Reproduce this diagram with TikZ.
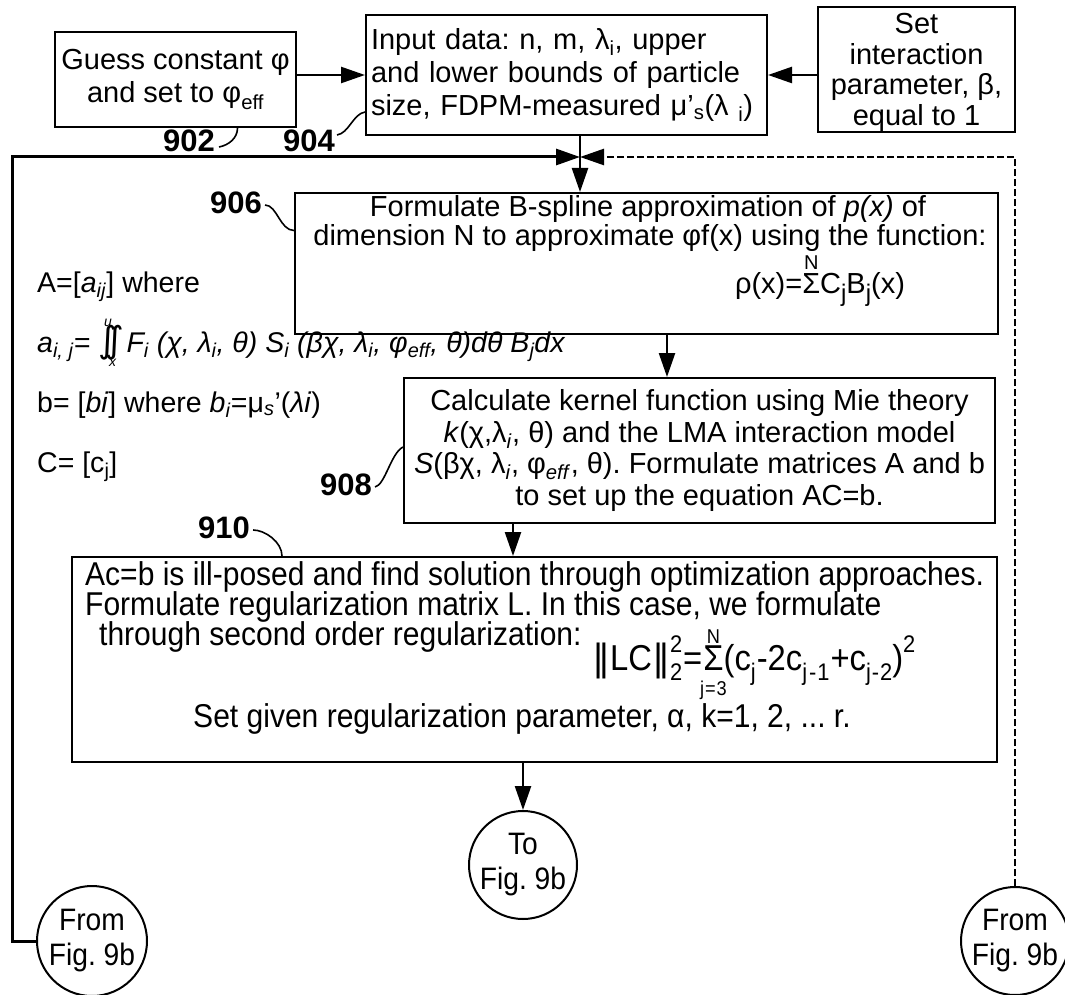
\documentclass[tikz,border=0pt]{standalone}
\usepackage{fontspec}
\setmainfont{Liberation Sans}
\newfontfamily\narrowf[FakeStretch=0.91]{Liberation Sans}
\newfontfamily\dvf{DejaVu Sans}
\usetikzlibrary{arrows.meta}
\frenchspacing
\newsavebox\sigbox
\newcommand{\sumlim}[3][0.78em]{\sbox\sigbox{Σ}%
 \makebox[0pt][l]{\makebox[\wd\sigbox][c]{\raisebox{#1}{\fontsize{20}{20}\selectfont #2}}}%
 \makebox[0pt][l]{\makebox[\wd\sigbox][c]{\raisebox{-0.72em}{\fontsize{20}{20}\selectfont #3}}}%
 \usebox\sigbox}
\newcommand{\dint}{\makebox[0pt][l]{\raisebox{26pt}{\fontsize{14}{14}\selectfont\itshape\kern6pt u}}%
 \makebox[0pt][l]{\raisebox{-14pt}{\fontsize{14}{14}\selectfont\itshape\kern11pt x}}%
 {\dvf\upshape\fontsize{36}{36}\selectfont ∫\kern-11pt∫}\kern2pt}
\newcommand{\sub}[1]{\raisebox{-0.28em}{\fontsize{24}{24}\selectfont #1}}
\newcommand{\sups}[1]{\raisebox{0.5em}{\fontsize{24}{24}\selectfont #1}}
\begin{document}
\begin{tikzpicture}[x=1pt,y=-1pt,
  box/.style={draw,line width=2pt,inner sep=0pt},
  tip/.style={-{Triangle[length=24pt,width=16pt]}},
  arr/.style={line width=2.4pt,tip},
  lbl/.style={font=\fontsize{31}{31}\selectfont\bfseries,inner sep=0pt},
  sq/.style={line width=1.6pt},
  txt/.style={inner sep=0pt,anchor=base west},
  ctxt/.style={inner sep=0pt,anchor=base},
  mainf/.style={font=\fontsize{29}{31.5}\selectfont},
  narf/.style={font=\narrowf\fontsize{33}{33}\selectfont},
  conn/.style={draw,circle,line width=2pt,minimum size=108pt,inner sep=0pt,align=center,font=\narrowf\fontsize{31}{35}\selectfont},
]
\useasboundingbox (0,0) rectangle (1065,995);

% top row
\node[box,minimum width=241pt,minimum height=95pt,align=center,font=\fontsize{29}{33}\selectfont] (b902) at (175.5,79.5) {Guess constant φ\\and set to φ\textsubscript{eff}};
\node[box,minimum width=401pt,minimum height=120pt,text width=391pt,align=left,font=\fontsize{29}{33}\selectfont] (b904) at (566.5,75) {Input data: n, m, λ\textsubscript{i}, upper\\and lower bounds of particle\\size, FDPM-measured μ'\textsubscript{s}(λ\textsubscript{ i})};
\node[box,minimum width=197pt,minimum height=125pt,align=center,font=\fontsize{29}{30.5}\selectfont] (bset) at (916.5,69.5) {\rule{0pt}{26pt}Set\\interaction\\parameter, β,\\equal to 1};

\coordinate (Y1) at (0,75);
\draw[arr] (b902.east |- Y1) -- (b904.west |- Y1);
\draw[arr] (bset.west |- Y1) -- (b904.east |- Y1);

\node[lbl] (l902) at (189,141) {902};
\node[lbl] (l904) at (309,141) {904};
\draw[sq] ([xshift=4pt,yshift=-6pt]l902.east) .. controls +(10,-2) and +(0,10) .. ([xshift=62pt]b902.south);
\draw[sq] ([xshift=2pt,yshift=6pt]l904.east) .. controls +(12,-2) and +(-12,2) .. ([yshift=-37pt]b904.west);

% loop
\coordinate (J) at (580,157);
\coordinate (LT) at (12,157);
\coordinate (RT) at (1015,157);

% 906
\node[box,minimum width=703pt,minimum height=141pt] (b906) at (646.5,263.5) {};
\node[ctxt,mainf] (t906a) at (648,216) {Formulate B-spline approximation of \textit{p(x)} of};
\node[ctxt,mainf] (t906b) at (650,245) {dimension N to approximate φf(x) using the function:};
\node[ctxt,mainf] (t906c) at (820,293) {ρ(x)=\sumlim[0.82em]{N}{}C\sub{j}B\sub{j}(x)};
\node[lbl] (l906) at (236,203) {906};
\draw[sq] ([xshift=3pt,yshift=-2pt]l906.east) .. controls +(12,0) and +(-14,0) .. ([yshift=33pt]b906.west);

\draw[arr] (J |- b904.south) -- (J |- b906.north);

% left formulas
\node[txt,font=\fontsize{28.5}{31}\selectfont] (fA) at (37,292) {A=[\textit{a}\textsubscript{\textit{ij}}] where};
\node[txt,font=\fontsize{28.5}{31}\selectfont\itshape] (fa) at (37,352) {a\textsubscript{i, j}= \dint F\textsubscript{i} (χ, λ\textsubscript{i}, θ) S\textsubscript{i} (βχ, λ\textsubscript{i}, φ\textsubscript{eff}, θ)dθ B\textsubscript{j}dx};
\node[txt,font=\fontsize{28.5}{31}\selectfont] (fb) at (37,412) {b= [\textit{bi}] where \textit{b}\textsubscript{\textit{i}}=μ\textsubscript{\textit{s}}'(\textit{λi})};
\node[txt,font=\fontsize{28.5}{31}\selectfont] (fC) at (37,472) {C= [c\textsubscript{j}]};

% 908
\node[box,minimum width=591pt,minimum height=145pt,align=center,mainf] (b908) at (699.5,450.5) {Calculate kernel function using Mie theory\\\textit{k}(χ,λ\textsubscript{\textit{i}}, θ) and the LMA interaction model\\\textit{S}(βχ, λ\textsubscript{\textit{i}}, φ\textsubscript{\textit{eff}}, θ). Formulate matrices A and b\\to set up the equation AC=b.};
\node[lbl] (l908) at (346,485) {908};
\draw[sq] ([xshift=3pt,yshift=-2pt]l908.east) .. controls +(10,-2) and +(-12,6) .. ([yshift=3.5pt]b908.west);
\coordinate (X1) at (667,0);
\draw[arr] (X1 |- b906.south) -- (X1 |- b908.north);

% 910
\node[box,minimum width=925pt,minimum height=205pt] (b910) at (534.5,659.5) {};
\node[txt,narf] (t910a) at (85,585) {Ac=b is ill-posed and find solution through optimization approaches.};
\node[txt,narf] (t910b) at (85,615) {Formulate regularization matrix L. In this case, we formulate};
\node[txt,narf] (t910c) at (99,645) {through second order regularization:};
\node[txt,font=\narrowf\fontsize{36}{36}\selectfont] (t910d) at (592,670) {{\dvf‖}LC{\dvf‖}\makebox[0pt][l]{\sups{2}}\sub{2}\kern1pt=\kern1pt\sumlim[0.74em]{N}{j\kern1pt=\kern1pt3}(c\sub{j}\kern1pt-2c\sub{j\kern2pt-\kern1pt1}\kern1pt+c\sub{j\kern1pt-\kern1pt2})\sups{2}};
\node[ctxt,narf] (t910e) at (522,727) {Set given regularization parameter, α, k=1, 2, ... r.};
\node[lbl] (l910) at (224,528) {910};
\draw[sq] ([xshift=3pt,yshift=-2pt]l910.east) .. controls +(12,0) and +(0,-14) .. ([xshift=-252.5pt]b910.north);
\coordinate (X2) at (513,0);
\draw[arr] (X2 |- b908.south) -- (X2 |- b910.north);

% connectors
\node[conn] (to) at (523,865) {To\\Fig. 9b};
\node[conn,minimum size=110pt] (lfrom) at (92,941) {From\\Fig. 9b};
\node[conn] (rfrom) at (1015,941) {From\\Fig. 9b};
\draw[arr] (to.north |- b910.south) -- (to.north);
\draw[line width=3pt,tip] (lfrom.west) -| (LT) -- (J);
\draw[line width=2.5pt,dash pattern=on 7pt off 3pt,tip] (rfrom.north) -- (RT) -- (J);
\end{tikzpicture}
\end{document}
